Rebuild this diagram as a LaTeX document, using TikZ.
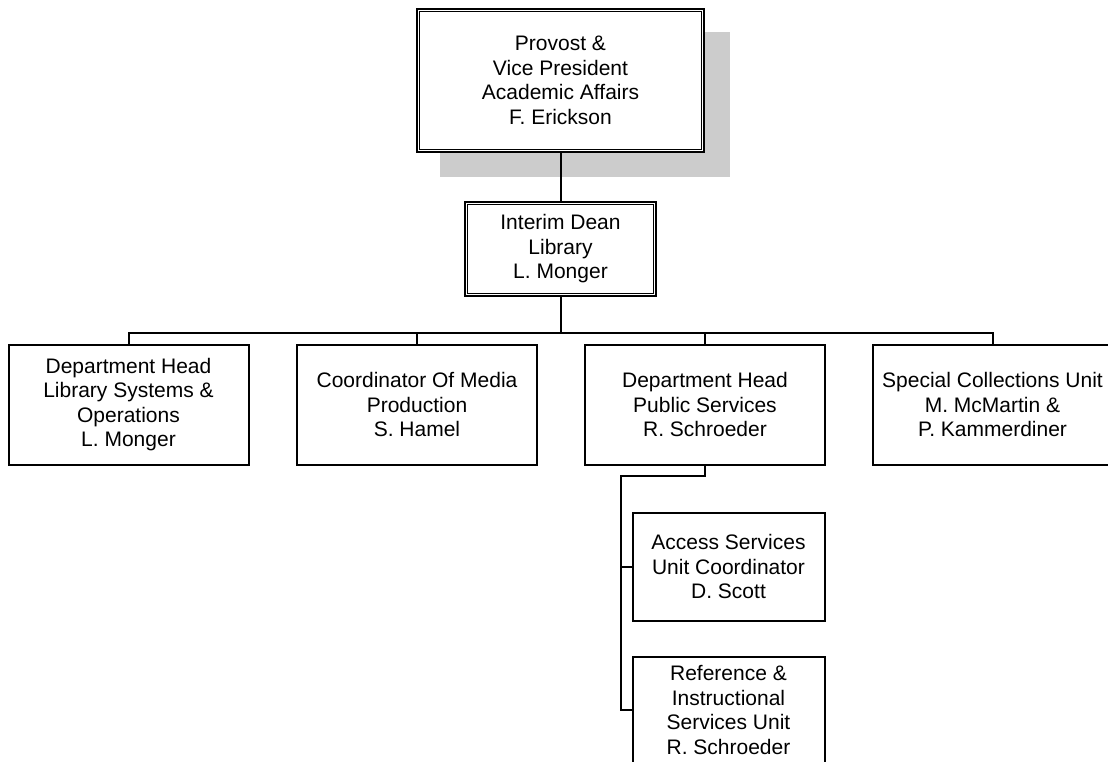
\documentclass[tikz,border=0pt]{standalone}
\usepackage{fontspec}
\setmainfont{Liberation Sans}
\begin{document}
\begin{tikzpicture}[x=1pt,y=-1pt,
  orgbox/.style={draw=black, line width=2pt, fill=white, align=center, inner sep=0pt,
    font=\fontsize{21}{24.5}\selectfont},
  link/.style={draw=black, line width=2pt}]
\clip (0,0) rectangle (1108,761);
\fill[white] (0,0) rectangle (1108,761);
% shadow of top box
\fill[gray!40] (440,32) rectangle (730,177);
% top box
\node[orgbox, line width=2.6pt, minimum width=287pt, minimum height=143pt] (top) at (560.5,80.5)
  {Provost \&\\Vice President\\Academic Affairs\\F. Erickson};
\draw[line width=1.3pt] ([shift={(4pt,-4pt)}]top.north west) rectangle ([shift={(-4pt,4pt)}]top.south east);
% dean
\node[orgbox, line width=2.2pt, minimum width=191pt, minimum height=94pt] (dean) at (560.5,249)
  {Interim Dean\\Library\\L. Monger};
\draw[line width=1.2pt] ([shift={(3.6pt,-3.6pt)}]dean.north west) rectangle ([shift={(-3.6pt,3.6pt)}]dean.south east);
% level 2
\node[orgbox, minimum width=240pt, minimum height=120pt] (b1) at (128.5,404.5)
  {Department Head\\Library Systems \&\\Operations\\L. Monger};
\node[orgbox, minimum width=240pt, minimum height=120pt] (b2) at (417,404.5)
  {Coordinator Of Media\\Production\\S. Hamel};
\node[orgbox, minimum width=240pt, minimum height=120pt] (b3) at (705,404.5)
  {Department Head\\Public Services\\R. Schroeder};
\node[orgbox, minimum width=240pt, minimum height=120pt] (b4) at (992.5,404.5)
  {Special Collections Unit\\M. McMartin \&\\P. Kammerdiner};
% level 3
\node[orgbox, minimum width=192pt, minimum height=108pt] (acc) at (728.5,566.5)
  {Access Services\\Unit Coordinator\\D. Scott};
\node[orgbox, minimum width=192pt, minimum height=106pt] (ref) at (728.5,710)
  {Reference \&\\Instructional\\Services Unit\\R. Schroeder};
% connectors
\coordinate (busy) at (0,333);
\coordinate (spine) at (621,476);
\draw[link] (top.south) -- (dean.north);
\draw[link] (dean.south) -- (dean.south |- busy);
\draw[link] (b1.north) -- (b1.north |- busy) -- (b4.north |- busy) -- (b4.north);
\draw[link] (b2.north |- busy) -- (b2.north);
\draw[link] (b3.north |- busy) -- (b3.north);
\draw[link] (b3.south) -- (b3.south |- spine) -- (spine) -- (spine |- ref.west) -- (ref.west);
\draw[link] (spine |- acc.west) -- (acc.west);
\end{tikzpicture}
\end{document}
